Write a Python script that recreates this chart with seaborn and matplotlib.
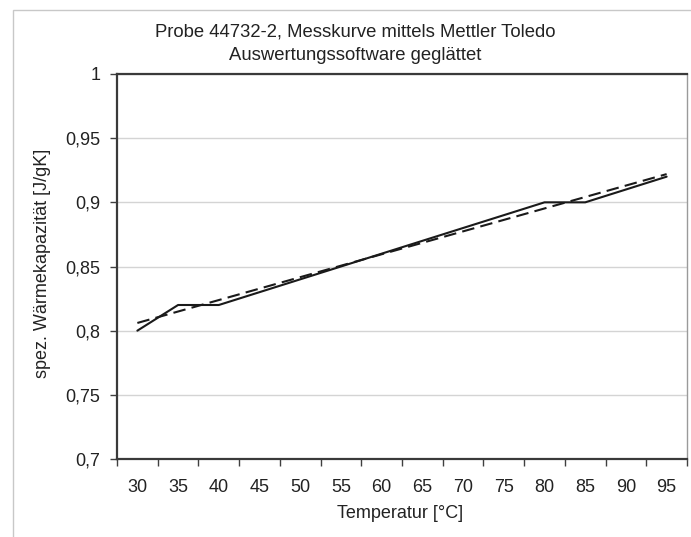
import matplotlib
matplotlib.use("Agg")
import matplotlib.pyplot as plt
from matplotlib.patches import Rectangle
from matplotlib.ticker import FixedLocator, NullFormatter, FixedFormatter
import numpy as np
import pandas as pd
import seaborn as sns

# Temperature categories and measured specific heat capacity
temperatures = [30, 35, 40, 45, 50, 55, 60, 65, 70, 75, 80, 85, 90, 95]
cp_measured = [0.80, 0.82, 0.82, 0.83, 0.84, 0.85, 0.86, 0.87, 0.88,
               0.89, 0.90, 0.90, 0.91, 0.92]
# Smoothed curve (straight), given at first and last temperature
cp_smoothed_temps = [30, 95]
cp_smoothed = [0.806, 0.922]

y_ticks = [0.7, 0.75, 0.8, 0.85, 0.9, 0.95, 1.0]
y_tick_labels = ["0,7", "0,75", "0,8", "0,85", "0,9", "0,95", "1"]

title_lines = ["Probe 44732-2, Messkurve mittels Mettler Toledo",
               "Auswertungssoftware geglättet"]
x_label = "Temperatur [°C]"
y_label = "spez. Wärmekapazität [J/gK]"

sns.set_theme(style="white")
plt.rcParams["font.family"] = ["Liberation Sans", "DejaVu Sans"]

W, H = 691, 537
fig = plt.figure(figsize=(W / 100, H / 100), dpi=100)
fig.patch.set_facecolor("white")

# Light frame around the chart area
fig.patches.append(Rectangle((13 / W, -0.1), 1.2, 1 - 10 / H + 0.1,
                             transform=fig.transFigure, fill=False,
                             edgecolor="#c8c8c8", linewidth=1.0))

ax = fig.add_axes([117 / W, 1 - 459 / H, (687 - 117) / W, (459 - 74) / H])

pos = {t: i for i, t in enumerate(temperatures)}
df_meas = pd.DataFrame({"x": [pos[t] for t in temperatures], "cp": cp_measured})
df_smooth = pd.DataFrame({"x": [pos[t] for t in cp_smoothed_temps], "cp": cp_smoothed})

sns.lineplot(data=df_meas, x="x", y="cp", ax=ax, color="#1a1a1a",
             linewidth=1.5, zorder=3)
sns.lineplot(data=df_smooth, x="x", y="cp", ax=ax, color="#1a1a1a",
             linewidth=1.5, dashes=False, zorder=3)
ax.lines[-1].set_linestyle((0, (6, 3)))

ax.set_xlim(-0.5, len(temperatures) - 0.5)
ax.set_ylim(0.7, 1.0)

# Category axis: ticks at boundaries, labels at centers
ax.xaxis.set_major_locator(FixedLocator(np.arange(-0.5, len(temperatures), 1.0)))
ax.xaxis.set_major_formatter(NullFormatter())
ax.xaxis.set_minor_locator(FixedLocator(np.arange(len(temperatures))))
ax.xaxis.set_minor_formatter(FixedFormatter([str(t) for t in temperatures]))
ax.tick_params(axis="x", which="major", direction="out", length=5, width=1,
               color="#404040", bottom=True)
ax.tick_params(axis="x", which="minor", length=0, pad=14.5, labelsize=13,
               labelcolor="#222222", bottom=True)

ax.set_yticks(y_ticks)
ax.set_yticklabels(y_tick_labels)
ax.tick_params(axis="y", direction="out", length=5, width=1, color="#404040",
               left=True, labelsize=13, labelcolor="#222222", pad=7)

ax.yaxis.grid(True, color="#d4d4d4", linewidth=1.0)
ax.xaxis.grid(False)
ax.set_axisbelow(True)

for side in ["left", "bottom", "top"]:
    ax.spines[side].set_visible(True)
    ax.spines[side].set_color("#3a3a3a")
    ax.spines[side].set_linewidth(1.6)
ax.spines["right"].set_visible(True)
ax.spines["right"].set_color("#9a9a9a")
ax.spines["right"].set_linewidth(1.0)

ax.set_xlabel("")
ax.set_ylabel("")
fig.text(400 / W, 1 - 514 / H, x_label, ha="center", va="center",
         fontsize=13, color="#222222")
fig.text(43 / W, 1 - 263 / H, y_label, ha="center", va="center",
         rotation=90, fontsize=13, color="#222222")
for line, yc in zip(title_lines, [32, 56]):
    fig.text(355 / W, 1 - yc / H, line, ha="center", va="center",
             fontsize=13.3, color="#222222")

fig.savefig("out.png", dpi=100, facecolor="white")
